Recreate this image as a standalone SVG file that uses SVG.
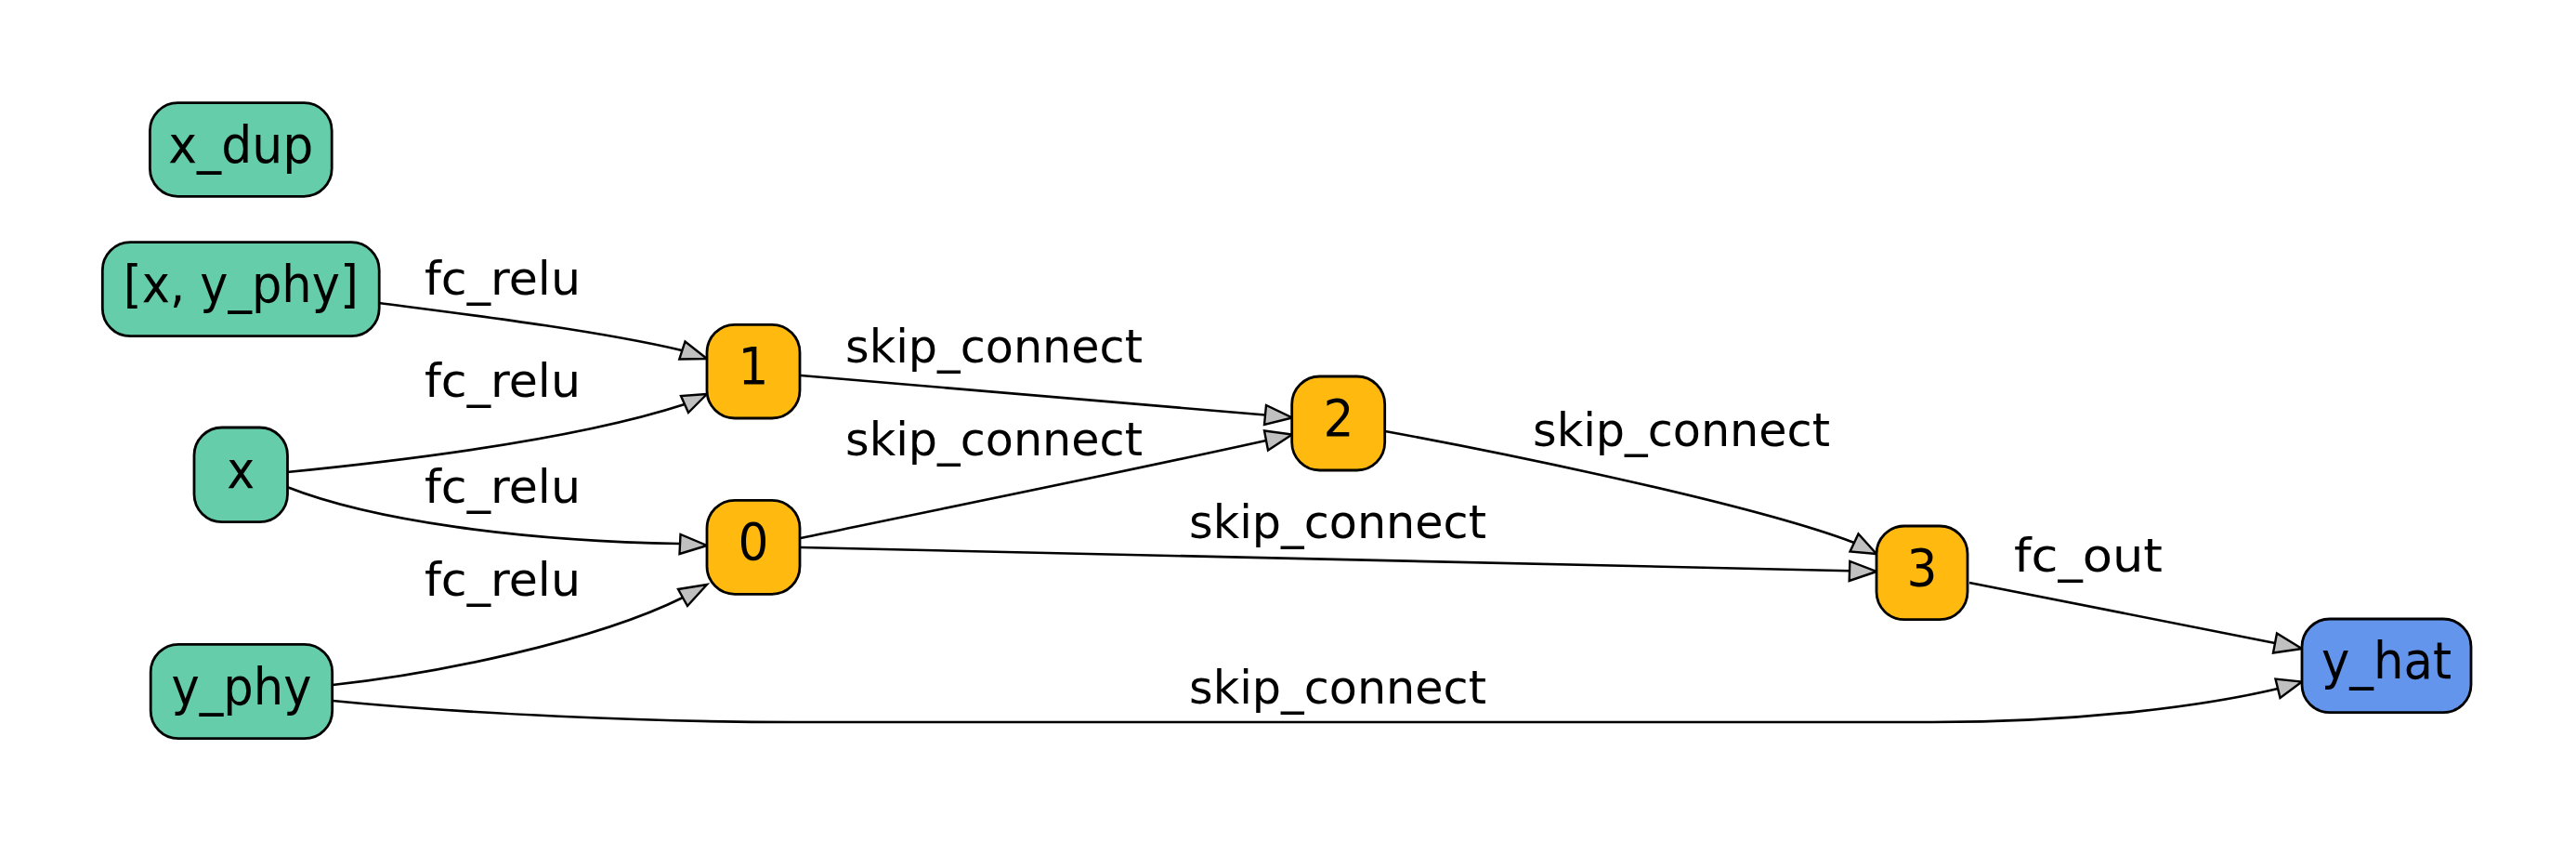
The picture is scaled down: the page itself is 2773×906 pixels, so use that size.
<svg xmlns="http://www.w3.org/2000/svg" width="2773" height="906" viewBox="0 0 2773 906">
<style>
.node rect{stroke:#000;stroke-width:2.8}
.in rect{fill:#66cdaa}
.op rect{fill:#ffb90f}
.out rect{fill:#6495ed}
.node text{font-family:"DejaVu Sans",Verdana,sans-serif;font-size:55px;text-anchor:middle;fill:#000}
.edges path{fill:none;stroke:#000;stroke-width:2.6}
.edges polygon{fill:#c0c0c0;stroke:#000;stroke-width:2.4;stroke-linejoin:miter}
.edges text{font-family:"DejaVu Sans",Verdana,sans-serif;font-size:50px;text-anchor:middle;fill:#000}
</style>
<rect width="2773" height="906" fill="#fff"/>
<g id="edges" class="edges">
  <!-- [x, y_phy] -> 1 -->
  <path d="M408,326 C500,338 640,355 734,377"/>
  <polygon points="761,386 731.3,386.5 737.5,367.5"/>
  <text x="541" y="317" textLength="168" lengthAdjust="spacingAndGlyphs">fc_relu</text>
  <!-- x -> 1 -->
  <path d="M309,508 C430,496 620,473 737,435"/>
  <polygon points="761,424 741,444 733,426"/>
  <text x="541" y="427" textLength="168" lengthAdjust="spacingAndGlyphs">fc_relu</text>
  <!-- x -> 0 -->
  <path d="M309,524 C400,560 560,582 732,585"/>
  <polygon points="761,587 731.5,596 732.5,575"/>
  <text x="541" y="541" textLength="168" lengthAdjust="spacingAndGlyphs">fc_relu</text>
  <!-- y_phy -> 0 -->
  <path d="M358,737 C470,725 640,690 735,643"/>
  <polygon points="761,629 740,652 730,634"/>
  <text x="541" y="641" textLength="168" lengthAdjust="spacingAndGlyphs">fc_relu</text>
  <!-- 1 -> 2 -->
  <path d="M862,404 L1362,446.5"/>
  <polygon points="1391,449.5 1361,457 1363,436"/>
  <text x="1070" y="390" textLength="320" lengthAdjust="spacingAndGlyphs">skip_connect</text>
  <!-- 0 -> 2 -->
  <path d="M862,579 C1000,550 1200,510 1363,474"/>
  <polygon points="1391,467.5 1365,484.5 1361,463.5"/>
  <text x="1070" y="490" textLength="320" lengthAdjust="spacingAndGlyphs">skip_connect</text>
  <!-- 0 -> 3 -->
  <path d="M862,589 L1991,614.3"/>
  <polygon points="2020,615 1990.7,625 1991.3,604"/>
  <text x="1440" y="579" textLength="320" lengthAdjust="spacingAndGlyphs">skip_connect</text>
  <!-- 2 -> 3 -->
  <path d="M1491,464 C1600,484 1880,540 1996,584"/>
  <polygon points="2020,596 1991.5,593.5 2000.5,574.5"/>
  <text x="1810" y="480" textLength="320" lengthAdjust="spacingAndGlyphs">skip_connect</text>
  <!-- 3 -> y_hat -->
  <path d="M2120,627 L2449,692"/>
  <polygon points="2478,698 2447,702.5 2451,681.5"/>
  <text x="2248" y="615" textLength="160" lengthAdjust="spacingAndGlyphs">fc_out</text>
  <!-- y_phy -> y_hat -->
  <path d="M358,754 C500,768 700,777 855,777 L2080,777 C2250,777 2380,758 2452,741"/>
  <polygon points="2478,733.5 2454.5,751 2449.5,730.5"/>
  <text x="1440" y="757" textLength="320" lengthAdjust="spacingAndGlyphs">skip_connect</text>
</g>
<g id="node-x_dup" class="node in">
  <rect x="161.4" y="110.7" width="195.8" height="100.6" rx="30" ry="30"/>
  <text x="259.3" y="174.5" textLength="156" lengthAdjust="spacingAndGlyphs">x_dup</text>
</g>
<g id="node-x_y_phy" class="node in">
  <rect x="110.3" y="260.7" width="297.9" height="101" rx="30" ry="30"/>
  <text x="259.3" y="324.5" textLength="253" lengthAdjust="spacingAndGlyphs">[x, y_phy]</text>
</g>
<g id="node-x" class="node in">
  <rect x="209" y="460" width="100.5" height="101.7" rx="30" ry="30"/>
  <text x="259.3" y="524.5" textLength="30" lengthAdjust="spacingAndGlyphs">x</text>
</g>
<g id="node-y_phy" class="node in">
  <rect x="162.2" y="693.3" width="195.5" height="101.4" rx="30" ry="30"/>
  <text x="260" y="757.5" textLength="151" lengthAdjust="spacingAndGlyphs">y_phy</text>
</g>
<g id="node-1" class="node op">
  <rect x="761" y="349.3" width="100" height="100.7" rx="30" ry="30"/>
  <text x="811" y="412.5" textLength="33" lengthAdjust="spacingAndGlyphs">1</text>
</g>
<g id="node-0" class="node op">
  <rect x="761" y="538.3" width="100" height="101" rx="30" ry="30"/>
  <text x="811" y="602" textLength="33" lengthAdjust="spacingAndGlyphs">0</text>
</g>
<g id="node-2" class="node op">
  <rect x="1390.7" y="405" width="100" height="101" rx="30" ry="30"/>
  <text x="1441" y="468.5" textLength="33" lengthAdjust="spacingAndGlyphs">2</text>
</g>
<g id="node-3" class="node op">
  <rect x="2020" y="566" width="98" height="100.7" rx="30" ry="30"/>
  <text x="2069" y="629.5" textLength="33" lengthAdjust="spacingAndGlyphs">3</text>
</g>
<g id="node-y_hat" class="node out">
  <rect x="2478" y="666" width="182" height="100.7" rx="30" ry="30"/>
  <text x="2569" y="730" textLength="140" lengthAdjust="spacingAndGlyphs">y_hat</text>
</g>
</svg>
